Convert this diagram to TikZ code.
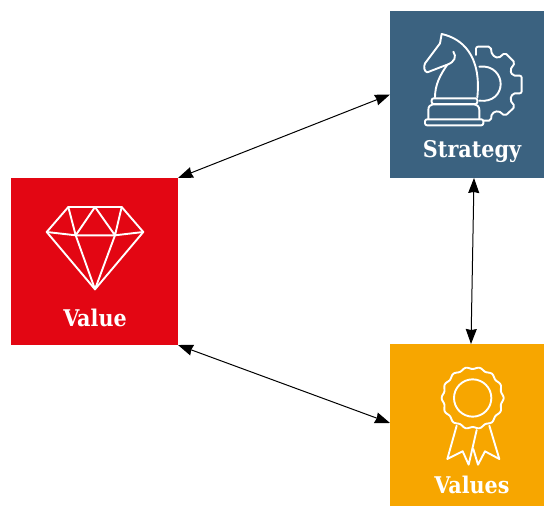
\documentclass[tikz,border=0pt]{standalone}
\usepackage{fontspec}
\setmainfont{DejaVu Serif Condensed}
\usetikzlibrary{arrows.meta,positioning}
\definecolor{stratblue}{HTML}{3B6280}
\definecolor{valuered}{HTML}{E30613}
\definecolor{valuesorange}{HTML}{F7A600}

\begin{document}
\begin{tikzpicture}[x=1pt,y=-1pt,
  box/.style={inner sep=0,outer sep=0,draw=none},
  caption/.style={text=white,font=\fontsize{23}{26}\selectfont\bfseries,inner sep=0},
  icon/.style={draw=white,line width=1.9pt,line join=round,line cap=round},
  to/.style={{Stealth[length=15pt,width=11pt,inset=1pt]}-{Stealth[length=15pt,width=11pt,inset=1pt]},line width=1pt}]

    \useasboundingbox (0,0) rectangle (544,506);

    \node[box,fill=stratblue,minimum width=154pt,minimum height=167pt](strategy) at (467,94.5){};
    \node[box,fill=valuered,minimum width=167pt,minimum height=167pt](value) at (94.5,261.5){};
    \node[box,fill=valuesorange,minimum width=154pt,minimum height=162pt](values) at (467,425){};

    \node[caption](strategyText) at (472,152){Strategy};
    \node[caption](valueText) at (95,318){Value};
    \node[caption](valuesText) at (472,485){Values};

    \draw[to](value.north east) -- (strategy.west);
    \draw[to](value.south east) -- ([yshift=2pt]values.west);
    \draw[to]([xshift=7pt]strategy.south) -- ([xshift=4pt]values.north);

    % diamond
    \begin{scope}[icon]
        \draw (46.7,232) -- (68.3,207) -- (121.7,207) -- (143.3,232) -- (95,289.3) -- cycle;
        \draw (46.7,232) -- (75.7,235.3) -- (115,235.3) -- (143.3,232);
        \draw (68.3,207) -- (75.7,235.3) -- (95,207) -- (115,235.3) -- (121.7,207);
        \draw (75.7,235.3) -- (95,289.3) -- (115,235.3);
    \end{scope}

    % knight and gear
    \begin{scope}[icon,shift={(390,10)},scale=1/3]
        \draw (155,72) .. controls (215,85) and (275,135) .. (262,262);
        \draw (155,72) -- (150,100) -- (105,160) .. controls (100,172) and (103,185) .. (112,187)
            .. controls (130,180) and (150,172) .. (172,164) .. controls (195,155) and (200,140) .. (190,125);
        \draw (172,164) .. controls (150,195) and (135,225) .. (135,262);
        \draw[rounded corners=2pt] (125,265) rectangle (262,282);
        \draw (115,327) -- (115,300) .. controls (115,290) and (120,284) .. (128,283) -- (250,283)
            .. controls (262,284) and (268,290) .. (268,300) -- (268,327);
        \draw[rounded corners=2pt] (105,328) rectangle (280,346);
        \draw[rounded corners=2pt] (258,135) -- (258,110) -- (302,110) -- (306,135) -- (325,145)
            -- (345,128) -- (375,158) -- (360,180) -- (368,197) -- (395,197) -- (395,250)
            -- (368,250) -- (360,270) -- (375,290) -- (345,318) -- (325,302) -- (305,310)
            -- (303,332) -- (282,332);
        \draw (268,170) .. controls (310,165) and (332,195) .. (332,222)
            .. controls (332,250) and (310,277) .. (268,272);
    \end{scope}

    % rosette
    \begin{scope}[icon,shift={(390,344)},scale=1/3]
        \draw plot[smooth,domain=0:360,samples=113,variable=\t]
            ({248+(90+3*cos(14*\t))*cos(\t)},{162+(90+3*cos(14*\t))*sin(\t)});
        \draw (248,162) circle[radius=56];
        \draw (200,245) -- (172,345) -- (218,322) -- (236,362) -- (260,258);
        \draw (298,245) -- (328,345) -- (285,322) -- (264,362) -- (250,315);
    \end{scope}
\end{tikzpicture}
\end{document}
